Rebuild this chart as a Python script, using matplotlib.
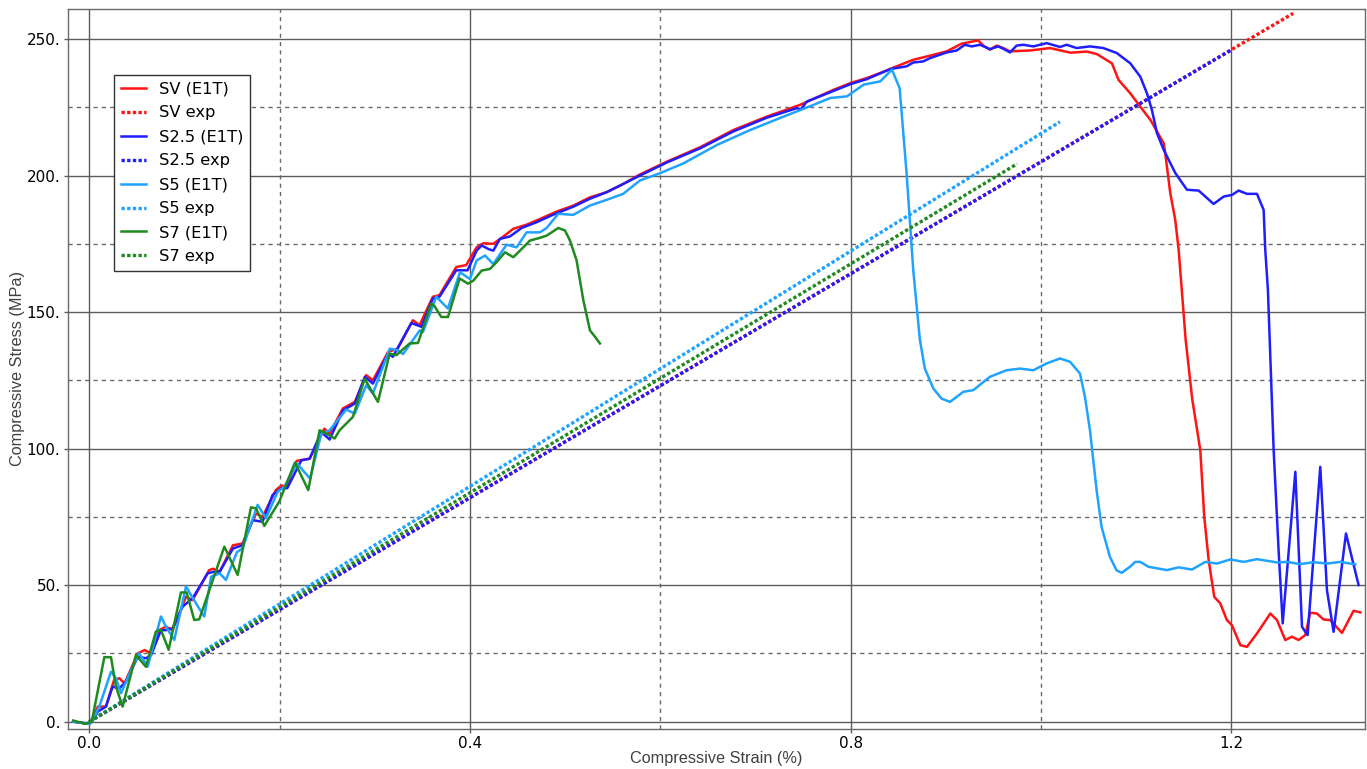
import matplotlib
matplotlib.use("Agg")
import matplotlib.pyplot as plt
from matplotlib.ticker import FixedLocator

# ---------------- data ----------------
sv_x = [-0.017, 0.0, 0.002, 0.009, 0.0175, 0.026, 0.0315, 0.037, 0.051, 0.058, 0.065, 0.0735, 0.0805,
        0.0875, 0.1016, 0.1086, 0.126, 0.13, 0.137, 0.151, 0.161, 0.175, 0.182, 0.196, 0.202, 0.207,
        0.218, 0.2315, 0.247, 0.2525, 0.2665, 0.279, 0.291, 0.298, 0.314, 0.324, 0.340, 0.347, 0.361,
        0.368, 0.3856, 0.396, 0.407, 0.414, 0.4245, 0.4333, 0.4455, 0.4595, 0.4736, 0.491, 0.5086,
        0.526, 0.5436, 0.561, 0.5786, 0.607, 0.642, 0.677, 0.712, 0.747, 0.782, 0.800, 0.817, 0.835,
        0.8483, 0.8658, 0.8834, 0.901, 0.9166, 0.934, 0.9394, 0.9464, 0.9534, 0.9604, 0.9674, 0.9884,
        1.0095, 1.031, 1.0483, 1.0588, 1.0746, 1.0816, 1.0939, 1.1044, 1.115, 1.129, 1.1306, 1.1359,
        1.1411, 1.1447, 1.152, 1.159, 1.1674, 1.1716, 1.1762, 1.1821, 1.1884, 1.1954, 1.2007, 1.2095,
        1.2165, 1.227, 1.241, 1.248, 1.2567, 1.2637, 1.2707, 1.2778, 1.283, 1.29, 1.297, 1.304, 1.3163,
        1.3285, 1.3356]
sv_y = [0, -0.8, 0, 5.5, 5.5, 15.2, 15.9, 14, 25, 26.2, 25, 33.5, 34.8,
        33.5, 45.7, 44.5, 55.5, 56, 54.9, 64.6, 65.2, 76.2, 75, 84.8, 86.5, 86,
        95.5, 96.3, 107.3, 105.5, 114.7, 117.1, 126.9, 125, 135.4, 136.6, 147, 145.2, 155.6,
        156.2, 166.5, 167.2, 173.7, 175.2, 175, 177.2, 180.5, 182, 184.1, 186.8, 189,
        192, 193.9, 196.9, 200.4, 205.1, 210.4, 216.7, 221.6, 225.9, 231.4, 233.9, 235.7, 238.1,
        240, 242.4, 243.9, 245.5, 248.3, 249.5, 247.6, 246.1, 247.6, 246.7, 245.5, 245.8,
        246.7, 245, 245.4, 244.5, 241.1, 235, 230.1, 225.2, 220.4, 211.8, 208.2, 193.5,
        183.8, 172.8, 140, 118, 99.5, 75, 59.2, 45.7, 43.3, 37.2, 35.3, 28,
        27.4, 32.3, 39.6, 37.2, 29.9, 31.1, 29.9, 31.7, 39.9, 39.6, 37.4, 37.2, 32.5,
        40.6, 40]

s25_x = [-0.017, 0.0, 0.003, 0.009, 0.0175, 0.0245, 0.0315, 0.0385, 0.051, 0.0595, 0.065, 0.0753,
         0.0805, 0.0875, 0.098, 0.1086, 0.1243, 0.1313, 0.137, 0.151, 0.161, 0.1716, 0.182, 0.1926,
         0.202, 0.208, 0.2228, 0.2315, 0.2438, 0.2525, 0.2665, 0.279, 0.2895, 0.298, 0.314, 0.319,
         0.3384, 0.349, 0.361, 0.368, 0.3856, 0.3975, 0.407, 0.4123, 0.4193, 0.4245, 0.4315, 0.442,
         0.4543, 0.47, 0.4876, 0.5086, 0.526, 0.5436, 0.5786, 0.607, 0.642, 0.677, 0.712, 0.7436,
         0.7475, 0.754, 0.782, 0.800, 0.817, 0.8417, 0.8588, 0.8658, 0.8763, 0.8834, 0.901, 0.9114,
         0.92, 0.9272, 0.936, 0.9464, 0.9552, 0.9622, 0.9674, 0.9744, 0.9814, 0.992, 1.006, 1.02,
         1.027, 1.0375, 1.0515, 1.0655, 1.0795, 1.0939, 1.1044, 1.1114, 1.1166, 1.1219, 1.129,
         1.1412, 1.1534, 1.1657, 1.1814, 1.192, 1.2007, 1.2077, 1.2165, 1.227, 1.234, 1.2357,
         1.2385, 1.2445, 1.2497, 1.254, 1.2673, 1.2743, 1.2802, 1.2935, 1.3005, 1.3075, 1.3205,
         1.3338]
s25_y = [0, -0.8, 0, 3.7, 5.5, 12.8, 12.2, 14.6, 23.8, 23.2, 24.4, 33.5,
         33.5, 34.2, 42.1, 45.2, 54.3, 54.9, 54.9, 63.4, 64.6, 73.8, 73.2, 83,
         85.5, 85.5, 95.7, 96.3, 106.1, 103.3, 114, 116.5, 126.3, 123.8, 134.8, 133.6,
         146, 144.6, 155, 155.6, 165.3, 165.3, 172.5, 174.4, 173.1, 172.5, 176.8, 177.7,
         180.8, 182.9, 185.7, 188.6, 191.5, 193.9, 200, 204.8, 210, 216.2, 221.2, 224.7,
         224.2, 227.1, 231, 233.5, 235.3, 239, 240, 241.4, 241.8, 243, 245.1, 245.8,
         247.9, 247.3, 247.9, 246.3, 247.3, 246.1, 245.1, 247.6, 247.9, 247.3, 248.5, 247.1,
         247.9, 246.7, 247.3, 246.7, 244.9, 241.1, 236.2, 230.1, 224, 215.5, 209.4,
         200.9, 194.8, 194.5, 189.6, 192.3, 192.9, 194.5, 193.3, 193.3, 187.4, 172.8,
         158, 99.5, 62.8, 36, 91.5, 34.7, 31.7, 93.3, 48.2, 32.9, 68.9,
         50]

s5_x = [-0.017, 0.0, 0.003, 0.0105, 0.0228, 0.028, 0.0333, 0.0455, 0.0525, 0.0613, 0.0753, 0.0805,
        0.0893, 0.1016, 0.1121, 0.1208, 0.128, 0.137, 0.1436, 0.155, 0.161, 0.1769, 0.1856, 0.198,
        0.205, 0.218, 0.232, 0.2438, 0.2525, 0.27, 0.279, 0.291, 0.298, 0.3158, 0.3245, 0.3296,
        0.3473, 0.3506, 0.3646, 0.3768, 0.3895, 0.4, 0.407, 0.4158, 0.4245, 0.4385, 0.449, 0.4595,
        0.4736, 0.4806, 0.4928, 0.5086, 0.526, 0.5436, 0.561, 0.5786, 0.6, 0.6245, 0.6595, 0.6946,
        0.7296, 0.7611, 0.7786, 0.7961, 0.8137, 0.8312, 0.8434, 0.8515, 0.8588, 0.8658, 0.8728,
        0.878, 0.8869, 0.8956, 0.9044, 0.9184, 0.9289, 0.9464, 0.9639, 0.9779, 0.992, 1.006, 1.02,
        1.0305, 1.041, 1.0462, 1.0515, 1.0585, 1.0637, 1.0725, 1.0795, 1.0848, 1.0935, 1.0991,
        1.1044, 1.1131, 1.1324, 1.1447, 1.1587, 1.1727, 1.185, 1.199, 1.213, 1.227, 1.248, 1.2585,
        1.2725, 1.2865, 1.3005, 1.3145, 1.3303]
s5_y = [0, -0.8, 0, 5.5, 18.3, 15.9, 10.4, 20.1, 25, 20.1, 38.5, 34.8,
        29.9, 49.5, 43.3, 38.5, 53.1, 54.3, 51.9, 62, 63.5, 79.4, 74.5, 84.2,
        86, 94.6, 89, 105.5, 106.7, 114.3, 112.8, 123.2, 120.2, 136.6, 136, 134.6,
        143.3, 142.7, 155.6, 151.3, 164.6, 162.1, 168.9, 170.7, 167.6, 174.7, 173.7, 179.2,
        179.2, 180.8, 186, 185.6, 189, 191.1, 193.3, 198.2, 200.9, 204.5, 211.2, 216.7,
        221.6, 225.9, 228.4, 229, 233.3, 234.5, 238.8, 232, 200.9, 165.4, 139.8,
        129.3, 122, 118.3, 117.1, 120.8, 121.4, 126.3, 128.7, 129.3, 128.7, 131.2, 133,
        131.8, 127.5, 119, 106.7, 84.7, 71.3, 60.3, 55.4, 54.5, 56.7, 58.5,
        58.5, 56.7, 55.5, 56.5, 55.7, 58.5, 57.9, 59.4, 58.5, 59.5, 58.3, 58.5,
        57.7, 58.4, 57.9, 58.5, 57.6]

s7_x = [-0.017, -0.0045, 0.0026, 0.0158, 0.0228, 0.028, 0.035, 0.049, 0.0595, 0.07, 0.0753, 0.0834,
        0.0963, 0.1023, 0.1103, 0.1156, 0.1419, 0.1559, 0.1699, 0.1751, 0.1839, 0.1996, 0.2161,
        0.2301, 0.242, 0.2476, 0.2578, 0.263, 0.277, 0.2893, 0.3033, 0.3156, 0.3226, 0.3366, 0.3454,
        0.3594, 0.3629, 0.3699, 0.3769, 0.3891, 0.3979, 0.4035, 0.4123, 0.421, 0.428, 0.4368, 0.4455,
        0.4543, 0.463, 0.4736, 0.4806, 0.4928, 0.4998, 0.5051, 0.512, 0.5191, 0.5261, 0.5313, 0.5366]
s7_y = [0.4, -0.8, 0, 23.6, 23.6, 12.8, 5.5, 24.4, 20.1, 33, 33.6, 26.3,
        47.3, 47.3, 37.2, 37.5, 64.1, 53.7, 78.5, 78.1, 71.7, 80.6, 94.9,
        84.8, 106.7, 105.8, 103.7, 106.7, 111.6, 125.6, 117.1, 134.8, 134.2, 138.5, 138.7,
        153.1, 152.1, 148.2, 148.2, 162.3, 160.4, 161.5, 165.2, 165.8, 168.3, 171.9, 170.1,
        173.1, 176.2, 177.2, 178, 180.8, 179.9, 176.2, 169, 154.4, 143.3, 141, 138.5]

# experimental (linear) curves: start and end points
sv_exp_x = [0.0, 1.265]
sv_exp_y = [0.0, 259.4]
s25_exp_x = [0.0, 1.20]
s25_exp_y = [0.0, 246.0]
s5_exp_x = [0.0, 1.02]
s5_exp_y = [0.0, 219.7]
s7_exp_x = [0.0, 0.975]
s7_exp_y = [0.0, 204.3]

labels = ["SV (E1T)", "SV exp", "S2.5 (E1T)", "S2.5 exp", "S5 (E1T)", "S5 exp", "S7 (E1T)", "S7 exp"]
x_ticks = [0.0, 0.4, 0.8, 1.2]
x_tick_labels = ["0.0", "0.4", "0.8", "1.2"]
y_ticks = [0, 50, 100, 150, 200, 250]
y_tick_labels = ["0.", "50.", "100.", "150.", "200.", "250."]

# ---------------- style ----------------
RED = "#FF1414"
BLUE = "#1E1EFF"
LBLUE = "#1FA3FF"
GREEN = "#1F8A1F"

fig = plt.figure(figsize=(13.67, 7.69), dpi=100)
ax = fig.add_axes([67.5 / 1367, 1 - 729 / 769, (1365 - 67.5) / 1367, 720 / 769])

ax.set_xlim(-0.0229, 1.3405)
ax.set_ylim(-2.7, 261)

# grids
ax.xaxis.set_major_locator(FixedLocator(x_ticks))
ax.xaxis.set_minor_locator(FixedLocator([0.2, 0.6, 1.0]))
ax.yaxis.set_major_locator(FixedLocator(y_ticks))
ax.yaxis.set_minor_locator(FixedLocator([25, 75, 125, 175, 225]))
ax.grid(which="major", color="#5c5c5c", linewidth=1.0, linestyle="-", zorder=0)
ax.grid(which="minor", color="#6a6a6a", linewidth=1.0, linestyle=(0, (3, 3)), zorder=0)
ax.set_axisbelow(True)

dot = (0, (1, 0.7))
lw = 1.8
dlw = 2.4
ax.plot(sv_x, sv_y, color=RED, lw=lw, label=labels[0])
ax.plot(sv_exp_x, sv_exp_y, color=RED, lw=dlw, linestyle=dot, label=labels[1])
ax.plot(s25_x, s25_y, color=BLUE, lw=lw, label=labels[2])
ax.plot(s25_exp_x, s25_exp_y, color=BLUE, lw=dlw, linestyle=dot, label=labels[3])
ax.plot(s5_x, s5_y, color=LBLUE, lw=lw, label=labels[4])
ax.plot(s5_exp_x, s5_exp_y, color=LBLUE, lw=dlw, linestyle=dot, label=labels[5])
ax.plot(s7_x, s7_y, color=GREEN, lw=lw, label=labels[6])
ax.plot(s7_exp_x, s7_exp_y, color=GREEN, lw=dlw, linestyle=dot, label=labels[7])

ax.set_xticklabels(x_tick_labels)
ax.set_yticklabels(y_tick_labels)
ax.tick_params(which="major", direction="out", length=3, width=1, color="#5c5c5c",
               labelsize=11, labelcolor="black", pad=2)
ax.tick_params(which="minor", length=0)

for sp in ax.spines.values():
    sp.set_color("#6a6a6a")
    sp.set_linewidth(1.0)

ax.set_xlabel("Compressive Strain (%)", fontsize=11.7, color="#404040",
              family=["Liberation Sans", "DejaVu Sans"], labelpad=0)
ax.set_ylabel("Compressive Stress (MPa)", fontsize=11.7, color="#404040",
              family=["Liberation Sans", "DejaVu Sans"], labelpad=1)

leg = ax.legend(loc="upper left", bbox_to_anchor=((114 - 67.5) / 1297.5, 1 - (75 - 9) / 720),
                borderaxespad=0, fontsize=11.7, frameon=True, fancybox=False, shadow=False,
                framealpha=1, edgecolor="#333333", handlelength=1.55, handletextpad=0.8,
                labelspacing=0.55, borderpad=0.4)
leg.get_frame().set_linewidth(1.0)

fig.savefig("out.png", dpi=100)
